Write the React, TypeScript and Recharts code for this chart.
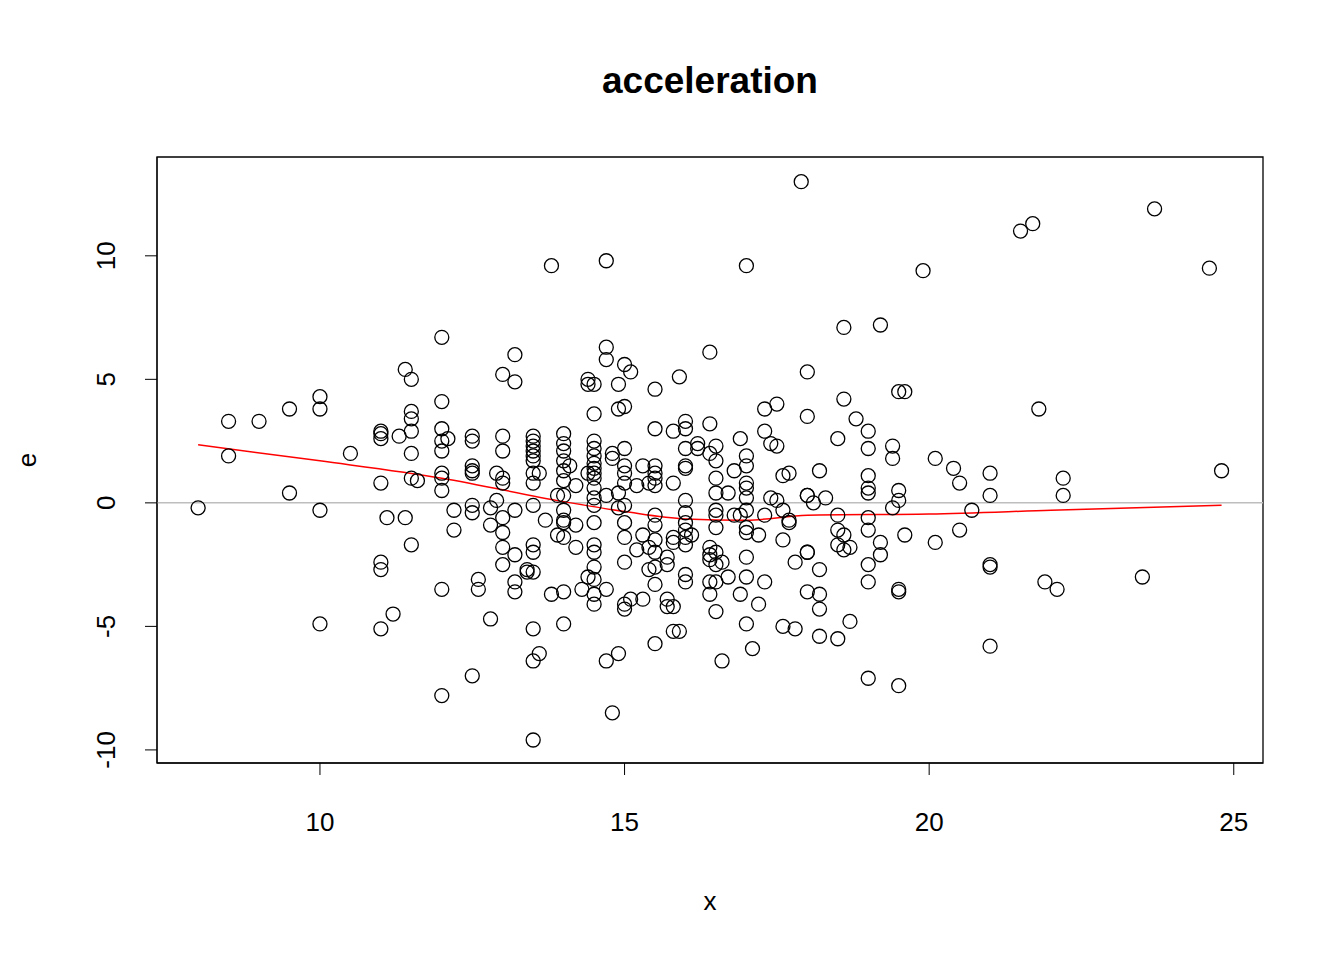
import { XAxis, YAxis, ReferenceLine, ReferenceArea, Line, Scatter, ComposedChart } from "recharts";

// residual columns: x value and the e values read at it
const residualColumns: [number, number[]][] = [
  [8.0, [-0.2]], [8.5, [3.3, 1.9]], [9, [3.3]], [9.5, [3.8, 0.4]],
  [10, [4.3, 3.8, -0.3, -4.9]], [10.5, [2.0]],
  [11, [2.9, 2.8, 2.6, 0.8, -2.4, -2.7, -5.1]], [11.1, [-0.6]], [11.2, [-4.5]], [11.3, [2.7]],
  [11.4, [5.4, -0.6]], [11.5, [5.0, 3.7, 3.4, 2.9, 2.0, 1.0, -1.7]], [11.6, [0.9]],
  [12, [6.7, 4.1, 3.0, 2.5, 2.1, 1.2, 1.0, 0.5, -3.5, -7.8]], [12.1, [2.6]], [12.2, [-0.3, -1.1]],
  [12.5, [2.7, 2.5, 1.5, 1.3, 1.2, -0.1, -0.4, -7.0]], [12.6, [-3.1, -3.5]],
  [12.8, [-0.2, -0.9, -4.7]], [12.9, [1.2, 0.1]],
  [13, [5.2, 2.7, 2.1, 1.0, 0.8, -0.6, -1.2, -1.8, -2.5]], [13.2, [6.0, 4.9, -0.3, -2.1, -3.2, -3.6]],
  [13.4, [-2.7, -2.8]],
  [13.5, [2.7, 2.5, 2.3, 2.1, 1.9, 1.7, 1.2, 0.8, -0.1, -1.7, -2.0, -2.8, -5.1, -6.4, -9.6]],
  [13.6, [1.2, -6.1]], [13.7, [-0.7]], [13.8, [9.6, -3.7]], [13.9, [0.3, -1.3]],
  [14, [2.8, 2.4, 2.1, 1.7, 1.3, 0.9, 0.3, -0.3, -0.7, -0.8, -1.4, -3.6, -4.9]],
  [14.1, [1.5]], [14.2, [0.7, -0.9, -1.8]], [14.3, [-3.5]], [14.4, [5.0, 4.8, 1.2, -3.0]],
  [14.5, [4.8, 3.6, 2.5, 2.2, 1.9, 1.6, 1.4, 1.2, 1.0, 0.6, 0.2, -0.1, -0.8, -1.7, -2.0, -2.6, -3.1, -3.7, -4.1]],
  [14.7, [9.8, 6.3, 5.8, 0.3, -3.5, -6.4]], [14.8, [2.0, 1.8, -8.5]], [14.9, [4.8, 3.8, 0.4, -0.2, -6.1]],
  [15, [5.6, 3.9, 2.2, 1.5, 1.2, 0.8, -0.1, -0.8, -1.4, -2.4, -4.1, -4.3]],
  [15.1, [5.3, -3.9]], [15.2, [0.7, -1.9]], [15.3, [1.5, -1.3, -3.9]], [15.4, [0.8, -1.8, -2.7]],
  [15.5, [4.6, 3.0, 1.5, 1.2, 1.0, 0.7, -0.5, -0.9, -1.5, -2.0, -2.6, -3.3, -5.7]],
  [15.7, [-2.2, -2.5, -3.9, -4.2]], [15.8, [2.9, 0.8, -1.4, -1.6, -4.2, -5.2]], [15.9, [5.1, -5.2]],
  [16, [3.3, 3.0, 2.2, 1.5, 1.4, 0.1, -0.4, -0.8, -1.1, -1.4, -1.7, -2.9, -3.2]],
  [16.1, [-1.3]], [16.2, [2.4, 2.2]], [16.4, [6.1, 3.2, 2.0, -1.8, -2.1, -2.3, -3.2, -3.7]],
  [16.5, [2.3, 1.7, 1.0, 0.4, -0.3, -0.5, -1.0, -2.0, -2.5, -3.2, -4.4]],
  [16.6, [-2.4, -6.4]], [16.7, [0.4, -3.0]], [16.8, [1.3, -0.5]], [16.9, [2.6, -0.5, -3.7]],
  [17, [9.6, 1.9, 1.5, 0.8, 0.6, 0.2, -0.3, -1.0, -1.2, -2.2, -3.0, -4.9]],
  [17.1, [-5.9]], [17.2, [-1.3, -4.1]], [17.3, [3.8, 2.9, -0.5, -3.2]], [17.4, [2.4, 0.2]],
  [17.5, [4.0, 2.3, 0.1]], [17.6, [1.1, -0.3, -1.5, -5.0]], [17.7, [1.2, -0.7, -0.8]],
  [17.8, [-2.4, -5.1]], [17.9, [13.0]], [18, [5.3, 3.5, 0.3, 0.3, -2.0, -2.0, -3.6]],
  [18.1, [0.0]], [18.2, [1.3, -2.7, -3.7, -4.3, -5.4]], [18.3, [0.2]],
  [18.5, [2.6, -0.5, -1.1, -1.7, -5.5]], [18.6, [7.1, 4.2, -1.3, -1.9]], [18.7, [-1.8, -4.8]],
  [18.8, [3.4]], [19, [2.9, 2.2, 1.1, 0.6, 0.4, -0.6, -1.1, -2.5, -3.2, -7.1]],
  [19.2, [7.2, -1.6, -2.1]], [19.4, [2.3, 1.8, -0.2]], [19.5, [4.5, 0.5, 0.1, -3.5, -3.6, -7.4]],
  [19.6, [4.5, -1.3]], [19.9, [9.4]], [20.1, [1.8, -1.6]], [20.4, [1.4]], [20.5, [0.8, -1.1]],
  [20.7, [-0.3]], [21, [1.2, 0.3, -2.5, -2.6, -5.8]], [21.5, [11.0]], [21.7, [11.3]],
  [21.8, [3.8]], [21.9, [-3.2]], [22.1, [-3.5]], [22.2, [1.0, 0.3]], [23.5, [-3.0]],
  [23.7, [11.9]], [24.6, [9.5]], [24.8, [1.3]],
];

const smoothX = [8, 10, 12, 14, 15, 16, 17, 18, 20, 22, 24.8];
const smoothE = [2.35, 1.7, 1.0, 0.05, -0.35, -0.65, -0.7, -0.5, -0.45, -0.3, -0.1];

const xTicks = [10, 15, 20, 25];
const yTicks = [-10, -5, 0, 5, 10];

const points = residualColumns.flatMap(([x, es]) => es.map((e) => ({ x, e })));
const smooth = smoothX.map((x, i) => ({ x, s: smoothE[i] }));

const font = "Liberation Sans, Arial, sans-serif";

const YTick = ({ x, y, payload }: any) => (
  <text x={x - 28} y={y} transform={`rotate(-90 ${x - 28} ${y})`} textAnchor="middle"
        fontSize={26} fontFamily={font} fill="#000">{payload.value}</text>
);

export default function App() {
  return (
    <div style={{ position: "absolute", left: 0, top: 0, width: 1344, height: 960, background: "#fff", fontFamily: font }}>
      <svg width={1344} height={960} style={{ position: "absolute", left: 0, top: 0 }}>
        <text x={710} y={93} textAnchor="middle" fontSize={37} fontWeight="bold">acceleration</text>
        <text x={710} y={910} textAnchor="middle" fontSize={26}>x</text>
        <text x={36} y={460} textAnchor="middle" fontSize={26} transform="rotate(-90 36 460)">e</text>
      </svg>
      <ComposedChart width={1344} height={960} margin={{ top: 157, right: 81, left: 97, bottom: 137 }}
                     style={{ position: "absolute", left: 0, top: 0 }}>
        <XAxis type="number" dataKey="x" domain={[7.325, 25.48]} ticks={xTicks} allowDataOverflow
               height={60} stroke="#000" tickSize={12} tickLine={{ stroke: "#000" }}
               tick={{ fontSize: 26, fill: "#000", fontFamily: font, dy: 36 }} />
        <YAxis type="number" dataKey="e" domain={[-10.53, 14.0]} ticks={yTicks} allowDataOverflow
               width={60} stroke="#000" tickSize={12} tick={<YTick />} />
        <ReferenceArea x1={7.325} x2={25.48} y1={-10.53} y2={14.0} fill="none" stroke="#000" strokeWidth={1.3} />
        <ReferenceLine y={0} stroke="#bebebe" strokeWidth={1.5} />
        <Scatter data={points} dataKey="e" isAnimationActive={false}
                 shape={(p: any) => <circle cx={p.cx} cy={p.cy} r={7} fill="none" stroke="#000" strokeWidth={1.3} />} />
        <Line data={smooth} dataKey="s" type="monotone" stroke="#ff0000" strokeWidth={1.5} dot={false} isAnimationActive={false} />
      </ComposedChart>
    </div>
  );
}
